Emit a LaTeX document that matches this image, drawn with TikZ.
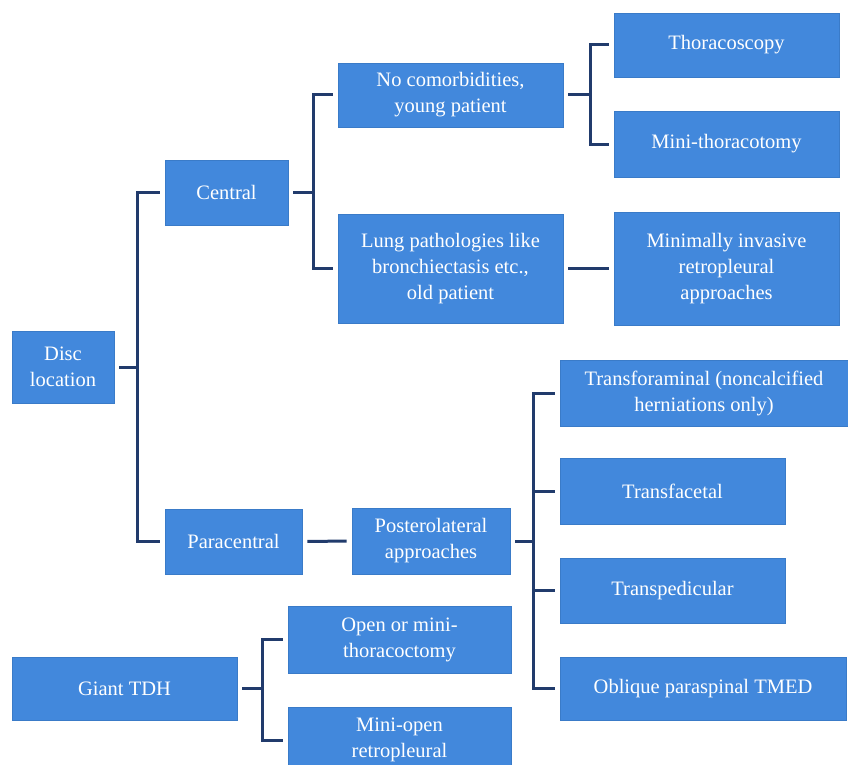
\documentclass[tikz,border=0pt]{standalone}
\usepackage{fontspec}
\setmainfont{Liberation Serif}
\definecolor{boxblue}{HTML}{4288DC}
\definecolor{boxedge}{HTML}{3A7BC8}
\definecolor{linenavy}{HTML}{213B6C}
\begin{document}
\begin{tikzpicture}[x=1pt,y=-1pt,
  box/.style={fill=boxblue,draw=boxedge,line width=0.6pt,text=white,inner sep=2pt,align=center,
    font=\fontsize{20.5}{26}\selectfont},
  conn/.style={draw=linenavy,line width=3pt,shorten <=5pt,shorten >=5pt,line join=miter}]
\useasboundingbox (0,0) rectangle (848,765);
\clip (0,0) rectangle (848,765);
% nodes
\node[box,minimum width=102pt,minimum height=72pt] (disc) at (63,367) {Disc\\location};
\node[box,minimum width=123pt,minimum height=65pt] (central) at (226.5,192.5) {Central};
\node[box,minimum width=137pt,minimum height=65pt] (para) at (233.5,541.5) {Paracentral};
\node[box,minimum width=225pt,minimum height=64pt] (nocom) at (450.5,95) {No comorbidities,\\young patient};
\node[box,minimum width=225pt,minimum height=109pt] (lung) at (450.5,268.5) {Lung pathologies like\\bronchiectasis etc.,\\old patient};
\node[box,minimum width=225pt,minimum height=64pt] (thoraco) at (726.5,45) {Thoracoscopy};
\node[box,minimum width=225pt,minimum height=66pt] (minithor) at (726.5,144) {Mini-thoracotomy};
\node[box,minimum width=225pt,minimum height=113pt] (mininv) at (726.5,268.5) {Minimally invasive\\retropleural\\approaches};
\node[box,minimum width=158pt,minimum height=66pt] (postero) at (431,541) {Posterolateral\\approaches};
\node[box,minimum width=288pt,minimum height=66pt] (transfor) at (704,393) {Transforaminal (noncalcified\\herniations only)};
\node[box,minimum width=225pt,minimum height=66pt] (transfac) at (672.5,491) {Transfacetal};
\node[box,minimum width=225pt,minimum height=65pt] (transped) at (672.5,590.5) {Transpedicular};
\node[box,minimum width=286pt,minimum height=63pt] (oblique) at (703,688.5) {Oblique paraspinal TMED};
\node[box,minimum width=225pt,minimum height=63pt] (giant) at (124.5,688.5) {Giant TDH};
\node[box,minimum width=223pt,minimum height=67pt] (openmini) at (399.5,639.5) {Open or mini-\\thoracoctomy};
\node[box,minimum width=223pt,minimum height=66pt] (miniopen) at (399.5,740) {Mini-open\\retropleural};
% bus coordinates
\coordinate (b1) at (137,0);
\coordinate (b2) at (313,0);
\coordinate (b3) at (590,0);
\coordinate (b4) at (533,0);
\coordinate (b5) at (262,0);
% connectors
\draw[conn] (disc.east) -- (disc.east -| b1) |- (central.west);
\draw[conn] (disc.east) -- (disc.east -| b1) |- (para.west);
\draw[conn] (central.east) -- (central.east -| b2) |- (nocom.west);
\draw[conn] (central.east) -- (central.east -| b2) |- (lung.west);
\draw[conn] (nocom.east) -- (nocom.east -| b3) |- (thoraco.west);
\draw[conn] (nocom.east) -- (nocom.east -| b3) |- (minithor.west);
\draw[conn] (lung.east) -- (mininv.west);
\draw[conn] (para.east) -- (postero.west);
\draw[conn] (postero.east) -- (postero.east -| b4) |- (transfor.west);
\draw[conn] (postero.east) -- (postero.east -| b4) |- (transfac.west);
\draw[conn] (postero.east) -- (postero.east -| b4) |- (transped.west);
\draw[conn] (postero.east) -- (postero.east -| b4) |- (oblique.west);
\draw[conn] (giant.east) -- (giant.east -| b5) |- (openmini.west);
\draw[conn] (giant.east) -- (giant.east -| b5) |- (miniopen.west);
\end{tikzpicture}
\end{document}
